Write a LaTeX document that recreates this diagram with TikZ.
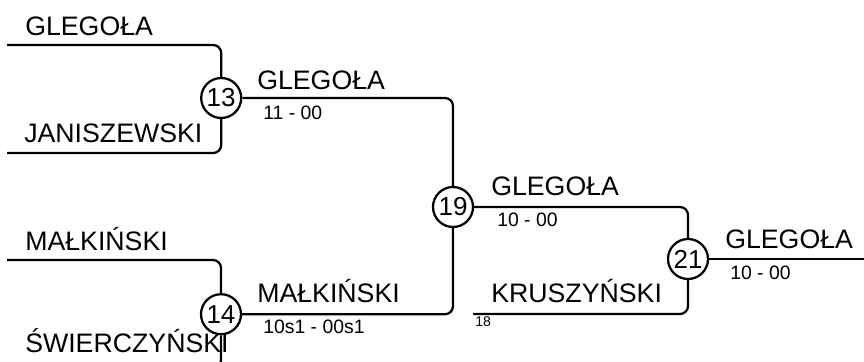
\documentclass[tikz,border=0pt]{standalone}
\usepackage{fontspec}
\setmainfont{Liberation Sans}
\begin{document}
\begin{tikzpicture}[
    match/.style={draw, circle, line width=1.6pt, inner sep=0pt, minimum size=1cm,
      font=\fontsize{18.5}{20}\selectfont},
    player/.style={anchor=base west, inner sep=0pt, font=\fontsize{19}{22}\selectfont},
    score/.style={anchor=base west, inner sep=0pt, font=\fontsize{13.8}{16}\selectfont},
    seed/.style={anchor=base west, inner sep=0pt, font=\fontsize{10}{12}\selectfont},
    bracket/.style={line width=1.6pt, rounded corners=0.2cm}]
      \useasboundingbox (0,0) rectangle (21.6,9.025);
      \clip (0,0) rectangle (21.6,9.025);
      \draw
        (5.53,6.575) node[match] (m13){13}
        (5.525,1.17) node[match] (m14){14}
        (11.325,3.85) node[match] (m19){19}
        (17.2,2.55) node[match] (m21){21};
      \coordinate (glegola) at (0.175,7.9);
      \coordinate (janiszewski) at (0.175,5.2);
      \coordinate (malkinski) at (0.175,2.525);
      \coordinate (swierczynski) at (0.175,-0.175);
      \coordinate (kruszynski) at (11.83,1.175);
      \coordinate (winner) at (21.8,2.55);
      \node[player] (p1) at (0.625,8.15) {GLEGOŁA};
      \node[player] (p2) at (0.6,5.475) {JANISZEWSKI};
      \node[player] (p3) at (0.625,2.775) {MAŁKIŃSKI};
      \node[player] (p4) at (0.625,0.21) {ŚWIERCZYŃSKI};
      \node[player] (w13) at (6.425,6.8) {GLEGOŁA};
      \node[score] (s13) at (6.575,6.05) {11 - 00};
      \node[player] (w14) at (6.425,1.46) {MAŁKIŃSKI};
      \node[score] (s14) at (6.575,0.7) {10s1 - 00s1};
      \node[player] (w19) at (12.275,4.15) {GLEGOŁA};
      \node[score] (s19) at (12.425,3.375) {10 - 00};
      \node[player] (p5) at (12.275,1.46) {KRUSZYŃSKI};
      \node[seed] (n18) at (11.875,0.86) {18};
      \node[player] (w21) at (18.125,2.825) {GLEGOŁA};
      \node[score] (s21) at (18.25,2.05) {10 - 00};
      \begin{scope}[bracket]
        \draw (glegola) -| (m13);
        \draw (janiszewski) -| (m13);
        \draw (malkinski) -| (m14);
        \draw (swierczynski) -| (m14);
        \draw (m13) -| (m19);
        \draw (m14) -| (m19);
        \draw (m19) -| (m21);
        \draw (kruszynski) -| (m21);
        \draw (m21) -- (winner);
      \end{scope}
    \end{tikzpicture}
\end{document}
